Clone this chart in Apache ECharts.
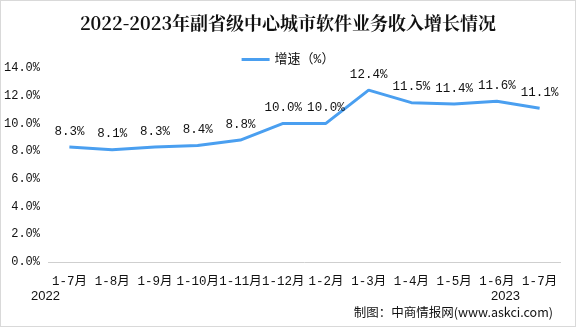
<!DOCTYPE html>
<html><head><meta charset="utf-8">
<script src="https://cdn.jsdelivr.net/npm/echarts@6/dist/echarts.min.js"></script>
<style>html,body{margin:0;padding:0;background:#fff}#c{width:576px;height:327px;box-sizing:border-box;border:1px solid #d9d9d9}</style>
</head><body><div id="c"></div>
<script>
const categories = ['1-7月','1-8月','1-9月','1-10月','1-11月','1-12月','1-2月','1-3月','1-4月','1-5月','1-6月','1-7月'];
const growth = [8.3, 8.1, 8.3, 8.4, 8.8, 10.0, 10.0, 12.4, 11.5, 11.4, 11.6, 11.1];
const seriesName = '增速（%）';
const titleText = '2022-2023年副省级中心城市软件业务收入增长情况';
const sourceText = '制图：中商情报网(www.askci.com)';
const yearLabels = ['2022', '2023'];

const chart = echarts.init(document.getElementById('c'), null, {renderer: 'canvas'});
const mono = '"Liberation Mono","DejaVu Sans Mono","Noto Sans CJK SC",monospace';
chart.setOption({
  animation: false,
  backgroundColor: '#fff',
  title: {text: titleText, left: 'center', top: 8,
    textStyle: {fontFamily: '"Noto Serif CJK SC","Noto Sans CJK SC",serif', fontSize: 18, fontWeight: 'bold', color: '#111'}},
  legend: {data: [seriesName], top: 47, left: 'center', itemWidth: 28, itemHeight: 3, itemGap: 6,
    icon: 'rect', itemStyle: {color: '#4a9ff0', opacity: 1},
    textStyle: {fontFamily: mono, fontSize: 13, color: '#111'}},
  grid: {left: 47, right: 14, top: 67, bottom: 64},
  xAxis: {type: 'category', data: categories, boundaryGap: true,
    axisLine: {show: false}, axisTick: {show: false},
    axisLabel: {interval: 0, margin: 13, color: '#111', fontSize: 12.5, fontFamily: mono}},
  yAxis: {type: 'value', min: 0, max: 14, interval: 2,
    axisLine: {show: false}, axisTick: {show: false},
    splitLine: {show: false},
    axisLabel: {formatter: v => v.toFixed(1) + '%', color: '#111', fontSize: 12, fontFamily: mono, margin: 8}},
  series: [{
    name: seriesName, type: 'line', data: growth, symbol: 'circle', symbolSize: 1, showSymbol: true,
    lineStyle: {color: '#4a9ff0', width: 3}, itemStyle: {color: '#4a9ff0', opacity: 0},
    label: {show: true, position: 'top', distance: 9, formatter: p => p.value.toFixed(1) + '%',
      color: '#111', fontSize: 12.5, fontFamily: mono, opacity: 1},
    labelLayout: {hideOverlap: false},
    markLine: {silent: true, symbol: 'none', label: {show: false},
      lineStyle: {color: '#cfcfcf', type: 'solid', width: 1}, data: [{yAxis: 0}]}
  }],
  graphic: [
    {type: 'text', left: 30, top: 289, style: {text: yearLabels[0], font: '13px "Liberation Sans","Noto Sans CJK SC"', fill: '#111'}},
    {type: 'text', left: 490, top: 289, style: {text: yearLabels[1], font: '13px "Liberation Sans","Noto Sans CJK SC"', fill: '#111'}},
    {type: 'text', right: 22, top: 305, style: {text: sourceText, font: '12.5px "Noto Sans CJK SC"', fill: '#111'}}
  ]
});
</script></body></html>
